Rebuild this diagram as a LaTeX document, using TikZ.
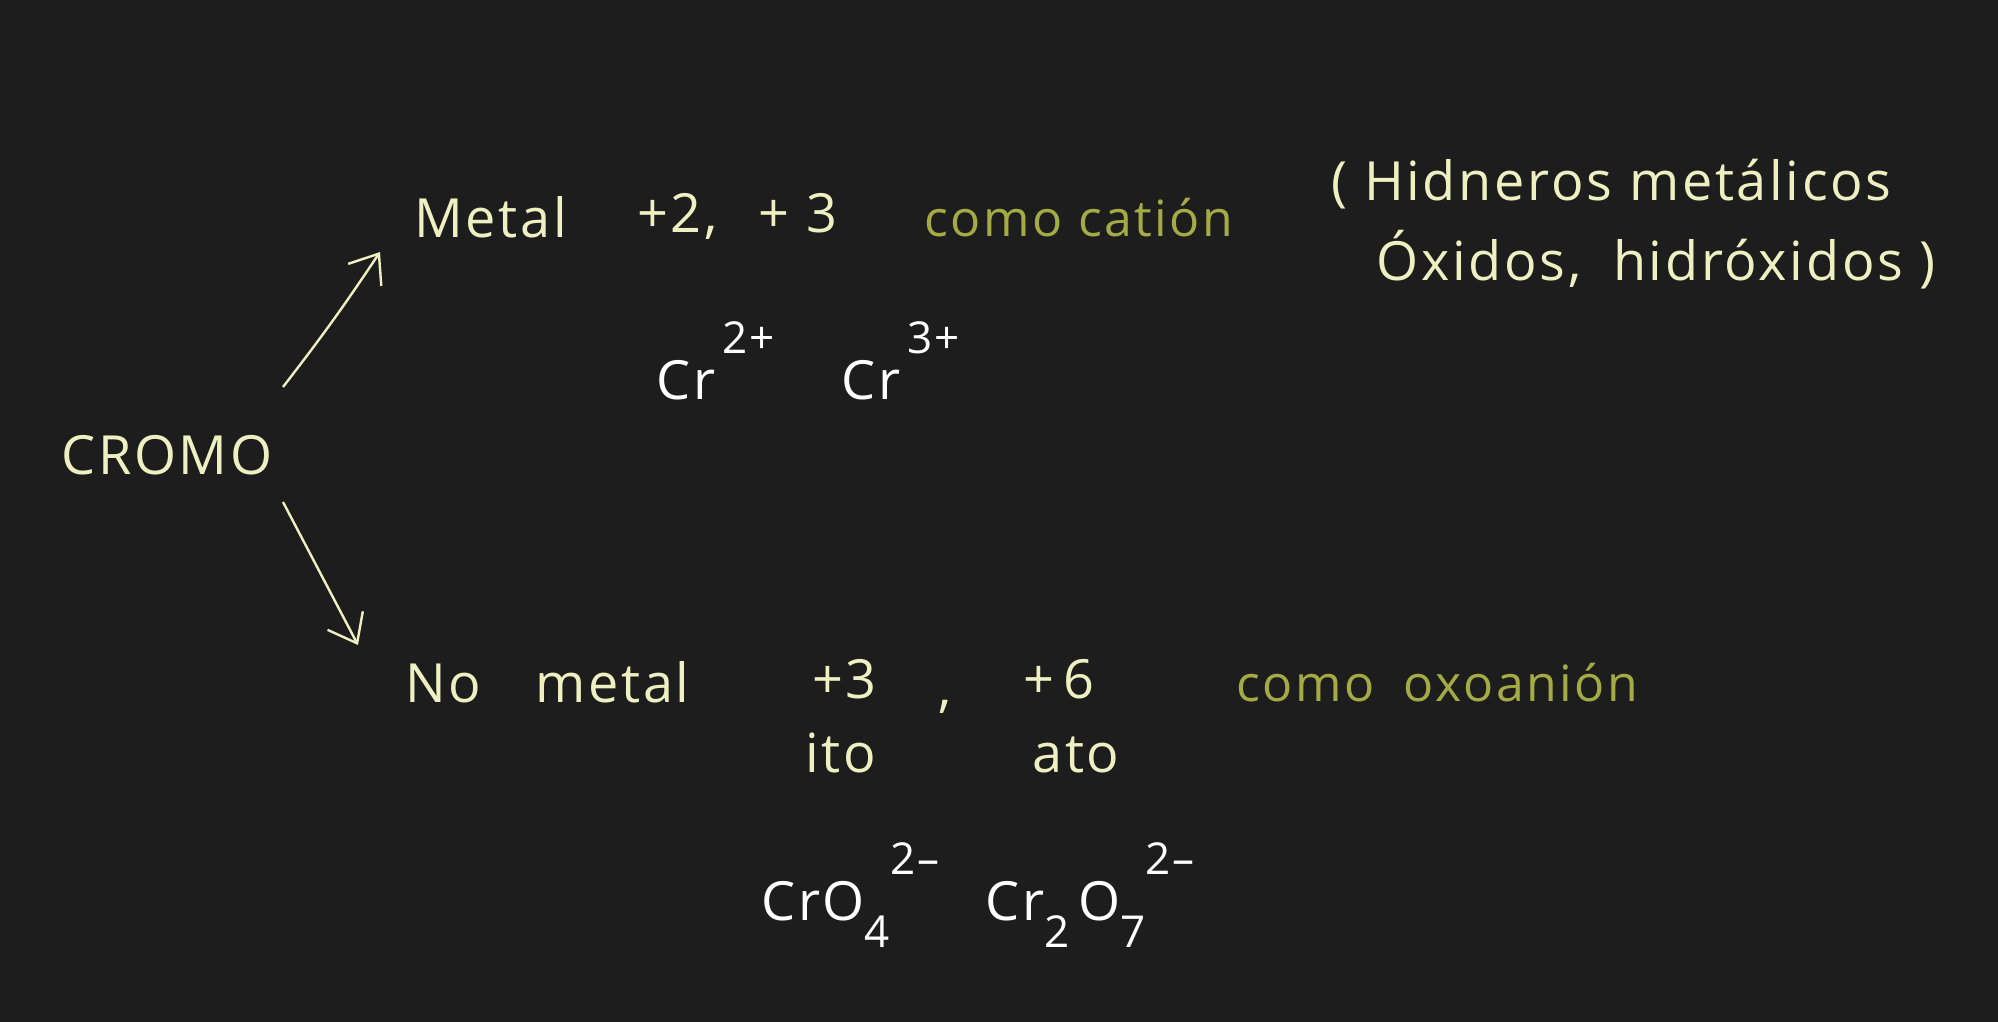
\documentclass[tikz,border=0pt]{standalone}
\usepackage{fontspec}
\setmainfont{Open Sans}[LetterSpace=5]
\usetikzlibrary{arrows.meta}
\definecolor{board}{HTML}{1D1D1D}
\definecolor{chalk}{HTML}{EEF0C2}
\definecolor{olivechalk}{HTML}{A4AA44}
\newcommand{\chup}[1]{\raisebox{0.85em}{\fontsize{22}{22}\selectfont #1}}
\newcommand{\chdn}[1]{\raisebox{-0.5em}{\fontsize{22}{22}\selectfont #1}}
\begin{document}
\begin{tikzpicture}[x=0.5pt,y=-0.5pt,
  txt/.style={anchor=base west, inner sep=0pt, text=chalk, font=\fontsize{27}{32}\selectfont},
  grn/.style={txt, text=olivechalk, font=\fontsize{25}{30}\selectfont},
  ion/.style={txt, text=white},
  arr/.style={draw=chalk, line width=1.2pt, -{Straight Barb[length=4.5mm,width=7mm]}}]
\fill[board] (0,0) rectangle (1998,1022);
\useasboundingbox (0,0) rectangle (1998,1022);
% top branch
\node[txt] (metal) at (414,237) {Metal};
\node[txt] (ox1) at (637,233) {+2,\;\, + 3};
\node[grn] (cat) at (924,236) {como catión};
\node[txt] (hid) at (1331,200) {( Hidneros metálicos};
\node[txt] (oxi) at (1376,280) {Óxidos,\; hidróxidos )};
\node[ion] (cr2) at (656,399) {Cr\chup{\,2+}};
\node[ion] (cr3) at (841,399) {Cr\chup{\,3+}};
% centre
\node[txt] (cromo) at (61,474) {CROMO};
\coordinate (u0) at (283,387);
\coordinate (u1) at (380,252);
\coordinate (d0) at (283,502);
\coordinate (d1) at (358,645);
\draw[arr] (u0) to[bend right=2] (u1);
\draw[arr] (d0) -- (d1);
% bottom branch
\node[txt] (nometal) at (405,702) {No\quad metal};
\node[txt] (p3) at (812,698) {+3};
\node[txt] (cm) at (938,706) {,};
\node[txt] (p6) at (1023,698) {+\,6};
\node[txt] (ito) at (805,772) {ito};
\node[txt] (ato) at (1032,772) {ato};
\node[grn] (oxo) at (1236,701) {como\; oxoanión};
\node[ion] (cro4) at (761,920) {CrO\chdn{4}\chup{2--}};
\node[ion] (cr2o7) at (985,920) {Cr\chdn{2}\,O\chdn{7}\chup{2--}};
\end{tikzpicture}
\end{document}
